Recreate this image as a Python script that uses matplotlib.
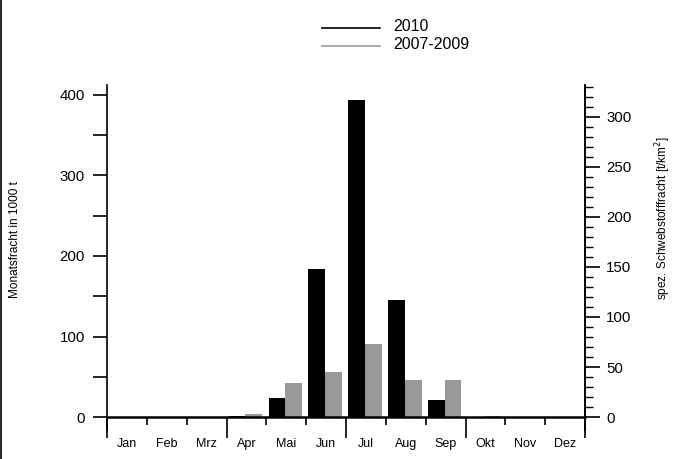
import numpy as np
import matplotlib
matplotlib.use("Agg")
import matplotlib.pyplot as plt
from matplotlib.lines import Line2D
from matplotlib.ticker import MultipleLocator

plt.rcParams['font.family'] = ['Liberation Sans', 'DejaVu Sans']

months = ['Jan', 'Feb', 'Mrz', 'Apr', 'Mai', 'Jun', 'Jul', 'Aug', 'Sep', 'Okt', 'Nov', 'Dez']
fracht_2010 = [0.5, 0.5, 0.5, 1.0, 24, 184, 393, 145, 21, 0.5, 0.5, 0.5]
fracht_2007_2009 = [0.3, 0.3, 0.3, 3.5, 42, 56, 91, 46, 46, 2.0, 0.5, 0.3]
label_2010 = '2010'
label_ref = '2007-2009'
grey = '#999999'

# left axis (1000 t) -> right axis (t/km2)
scale_right = 0.805

fig = plt.figure(figsize=(6.86, 4.59), dpi=100)
ax = fig.add_axes([0.156, 0.063, 0.697, 0.752])

x = np.arange(len(months))
w = 0.42
ax.bar(x + 0.265, fracht_2010, width=w, color='black', linewidth=0)
ax.bar(x + 0.685, fracht_2007_2009, width=w, color=grey, linewidth=0)

ax.set_xlim(0, 12)
ax.set_ylim(-16, 412)

ax.spines['top'].set_visible(False)
ax.spines['right'].set_linewidth(1.2)
ax.spines['left'].set_linewidth(1.2)
ax.spines['bottom'].set_position(('data', 0))
ax.spines['bottom'].set_linewidth(1.8)

# quarter boundaries long, month boundaries short
ax.set_xticks([0, 3, 6, 9, 12])
ax.set_xticks([1, 2, 4, 5, 7, 8, 10, 11], minor=True)
ax.tick_params(axis='x', which='major', direction='out', length=15, width=1.2, labelbottom=False)
ax.tick_params(axis='x', which='minor', direction='out', length=6, width=1.2)
for i, m in enumerate(months):
    ax.text(i + 0.5, -0.04, m, transform=ax.get_xaxis_transform(),
            ha='center', va='center', fontsize=9)

ax.set_yticks(np.arange(0, 401, 100))
ax.set_yticks(np.arange(50, 401, 100), minor=True)
ax.tick_params(axis='y', which='both', direction='out', length=10, width=1.2, labelsize=10.8, pad=6)

ax2 = ax.twinx()
lo, hi = ax.get_ylim()
ax2.set_ylim(lo * scale_right, hi * scale_right)
for s in ['top', 'left', 'bottom']:
    ax2.spines[s].set_visible(False)
ax2.spines['right'].set_linewidth(1.2)
ax2.set_yticks(np.arange(0, 301, 50))
ax2.set_yticks([v for v in range(0, 331, 10) if v % 50], minor=True)
ax2.tick_params(axis='y', which='major', direction='out', length=11, width=1.2, labelsize=10.8, pad=4)
ax2.tick_params(axis='y', which='minor', direction='out', length=6, width=1.0)

fig.text(15 / 686, 1 - 240 / 459, 'Monatsfracht in 1000 t', rotation=90,
         ha='center', va='center', fontsize=8.5)
fig.text(663 / 686, 1 - 218 / 459, 'spez. Schwebstofffracht [t/km$^2$]', rotation=90,
         ha='center', va='center', fontsize=8.5)

# legend drawn by hand above the plot
for k, (lab, col) in enumerate([(label_2010, 'black'), (label_ref, grey)]):
    yy = 1 - (28 + 18 * k) / 459
    fig.add_artist(Line2D([322 / 686, 380 / 686], [yy, yy], color=col, lw=1.2,
                          transform=fig.transFigure))
    fig.text(393 / 686, yy + 2 / 459, lab, ha='left', va='center', fontsize=11.5)

fig.add_artist(Line2D([0.001, 0.001], [0, 1], color='black', lw=1.2, transform=fig.transFigure))

fig.savefig('out.png', dpi=100)
